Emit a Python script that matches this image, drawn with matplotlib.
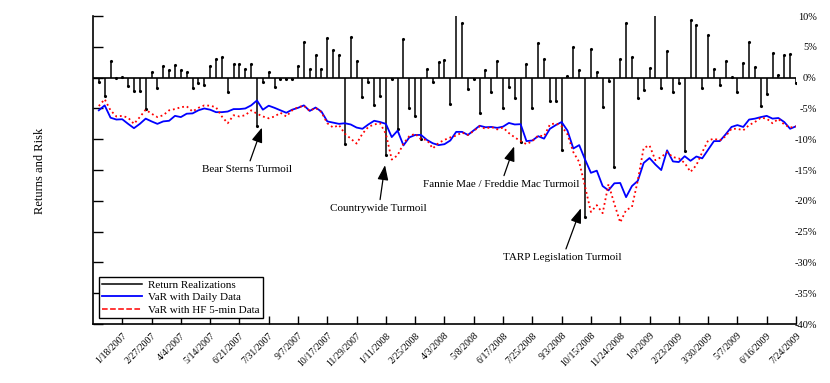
import matplotlib
matplotlib.use("Agg")
import matplotlib.pyplot as plt
import numpy as np
from matplotlib.lines import Line2D

plt.rcParams['font.family'] = ['Liberation Serif', 'DejaVu Serif']

# weekly observations, 120 of them
returns = [-0.76, -3.0, 2.65, -0.1, 0.05, -1.4, -2.2, -2.1, -5.1, 1.0,
           -1.7, 1.9, 1.2, 2.0, 1.25, 1.0, -1.6, -0.9, -1.2, 1.9,
           3.0, 3.4, -2.4, 2.2, 2.2, 1.35, 2.2, -7.8, -0.76, 1.0,
           -1.5, -0.2, -0.15, -0.27, 1.85, 5.8, 1.35, 3.7, 1.4, 6.45,
           4.55, 3.7, -10.8, 6.6, 2.7, -3.1, -0.76, -4.4, -2.9, -12.55,
           -0.27, -8.4, 6.2, -5.0, -6.3, -10.0, 1.45, -0.76, 2.5, 2.9,
           -4.2, 10.4, 8.9, -1.85, -0.27, -5.7, 1.2, -2.4, 2.7, -4.9,
           -1.46, -3.3, -10.5, 2.2, -5.0, 5.6, 3.1, -3.85, -3.85, -11.8,
           0.25, 5.0, 1.2, -22.6, 4.7, 1.0, -4.8, -0.5, -14.5, 3.0,
           8.9, 3.4, -3.3, -2.0, 1.6, 10.4, -1.7, 4.3, -2.4, -0.9,
           -11.9, 9.4, 8.6, -1.6, 7.0, 1.4, -1.15, 2.75, 0.16, -2.25,
           2.4, 5.75, 1.7, -4.65, -2.6, 3.95, 0.42, 3.75, 3.85, -0.85]

var_daily = [-5.3, -4.5, -6.5, -6.8, -6.75, -7.5, -8.2, -7.5, -6.65, -7.1,
             -7.5, -7.1, -7.0, -6.2, -6.4, -5.85, -5.8, -5.3, -5.0, -5.2,
             -5.6, -5.6, -5.5, -5.1, -5.1, -5.0, -4.5, -3.7, -5.2, -4.55,
             -4.9, -5.3, -5.7, -5.2, -4.9, -4.5, -5.4, -4.85, -5.5, -7.1,
             -7.3, -7.5, -7.4, -7.6, -8.1, -8.3, -7.6, -7.0, -7.2, -7.5,
             -9.65, -8.6, -11.0, -9.7, -9.3, -9.3, -10.1, -10.65, -10.95, -10.8,
             -10.2, -8.8, -8.8, -9.3, -8.55, -7.8, -8.05, -8.0, -8.15, -7.95,
             -7.35, -7.6, -7.55, -10.3, -10.2, -9.5, -9.9, -8.3, -7.7, -7.2,
             -8.6, -11.5, -10.95, -13.3, -15.45, -15.1, -17.6, -18.3, -17.15, -17.1,
             -19.4, -17.6, -16.75, -13.85, -13.05, -14.1, -15.0, -11.8, -13.6, -13.7,
             -12.75, -13.5, -12.8, -13.1, -11.7, -10.3, -10.3, -9.2, -8.0, -7.7,
             -8.0, -6.8, -6.65, -6.4, -6.2, -6.65, -6.55, -7.2, -8.3, -7.9]

var_hf = [-4.6, -3.5, -5.3, -6.3, -6.2, -6.5, -7.5, -6.4, -5.2, -5.85,
          -6.4, -6.1, -5.3, -5.1, -4.8, -4.65, -5.5, -4.9, -4.5, -4.55,
          -4.8, -6.3, -7.4, -6.1, -6.3, -6.1, -5.3, -5.85, -6.3, -6.6,
          -6.3, -5.7, -6.3, -5.3, -4.8, -4.55, -5.4, -4.9, -5.6, -7.4,
          -8.1, -7.7, -9.1, -9.9, -10.7, -9.1, -8.0, -7.6, -7.4, -9.1,
          -13.3, -12.6, -10.7, -9.5, -9.1, -10.0, -10.1, -11.5, -10.6, -10.1,
          -9.7, -9.4, -8.9, -9.3, -8.65, -7.9, -8.3, -8.0, -8.4, -8.1,
          -9.0, -9.7, -10.3, -10.8, -10.3, -9.4, -9.5, -7.6, -7.4, -7.9,
          -9.2, -12.1, -13.7, -17.7, -21.8, -20.7, -22.0, -17.3, -20.5, -23.5,
          -21.5, -21.0, -16.7, -11.4, -11.0, -13.4, -12.9, -12.1, -12.9, -13.1,
          -13.85, -15.3, -14.2, -12.1, -10.2, -9.9, -10.2, -9.5, -8.3, -8.3,
          -8.55, -7.7, -7.2, -6.5, -6.65, -7.4, -6.7, -7.6, -8.1, -7.9]

date_labels = ['1/18/2007', '2/27/2007', '4/4/2007', '5/14/2007', '6/21/2007',
               '7/31/2007', '9/7/2007', '10/17/2007', '11/29/2007', '1/11/2008',
               '2/25/2008', '4/3/2008', '5/8/2008', '6/17/2008', '7/25/2008',
               '9/3/2008', '10/15/2008', '11/24/2008', '1/9/2009', '2/23/2009',
               '3/30/2009', '5/7/2009', '6/16/2009', '7/24/2009']

y_ticks = [10, 5, 0, -5, -10, -15, -20, -25, -30, -35, -40]

x = np.arange(1, len(returns) + 1)

fig = plt.figure(figsize=(8.3, 3.83), dpi=100)
ax = fig.add_axes([0.112, 0.154, 0.847, 0.804])

# return realizations as stems
ax.vlines(x, 0, returns, colors='k', lw=1.1)
ax.plot(x, returns, 'k.', ms=2.5)
ax.axhline(0, color='k', lw=1.2)

ax.plot(x, var_daily, color='#0000ff', lw=1.3)
ax.plot(x, var_hf, color='#ff0000', lw=1.3, ls=':')

ax.set_xlim(0, 120)
ax.set_ylim(-40, 10)

ax.set_xticks(np.arange(5, 121, 5))
ax.set_xticklabels(date_labels, rotation=45, ha='right', rotation_mode='anchor', fontsize=7)
ax.tick_params(axis='x', direction='in', length=6, width=1, pad=5)

ax.set_yticks(y_ticks)
ax.set_yticklabels(['%d%%' % v for v in y_ticks], fontsize=7.5)
ax.tick_params(axis='y', direction='in', length=7, width=1, left=True, right=False,
               labelleft=False, labelright=True, pad=15)
for lab in ax.get_yticklabels():
    lab.set_horizontalalignment('right')

ax.spines['top'].set_visible(False)
ax.spines['right'].set_visible(False)
ax.spines['left'].set_linewidth(1.2)
ax.spines['bottom'].set_linewidth(1.2)

fig.text(0.048, 0.555, 'Returns and Risk', rotation=90, ha='center', va='center', fontsize=9)

# event annotations
arrow = dict(arrowstyle='-|>,head_length=0.6,head_width=0.22', color='k', lw=0.9,
             mutation_scale=15, shrinkA=1, shrinkB=0)
ax.annotate('Bear Sterns Turmoil', xy=(28.85, -8.1), xytext=(26.3, -14.9),
            ha='center', va='center', fontsize=8, arrowprops=arrow)
ax.annotate('Countrywide Turmoil', xy=(49.85, -14.2), xytext=(48.8, -21.2),
            ha='center', va='center', fontsize=8, arrowprops=arrow)
ax.annotate('Fannie Mae / Freddie Mac Turmoil', xy=(71.9, -11.15), xytext=(69.65, -17.3),
            ha='center', va='center', fontsize=8, arrowprops=arrow)
ax.annotate('TARP Legislation Turmoil', xy=(83.3, -21.2), xytext=(80.2, -29.2),
            ha='center', va='center', fontsize=8, arrowprops=arrow)

handles = [Line2D([0], [0], color='k', lw=1.1),
           Line2D([0], [0], color='#0000ff', lw=1.3),
           Line2D([0], [0], color='#ff0000', lw=1.1, ls='--')]
leg = ax.legend(handles, ['Return Realizations', 'VaR with Daily Data', 'VaR with HF 5-min Data'],
                loc='lower left', bbox_to_anchor=(0.0085, 0.019), borderaxespad=0,
                fontsize=8, handlelength=3.6, handletextpad=0.5, labelspacing=0.25,
                fancybox=False, framealpha=1, edgecolor='k', borderpad=0.3)
leg.get_frame().set_linewidth(1)

fig.savefig('out.png', dpi=100)
